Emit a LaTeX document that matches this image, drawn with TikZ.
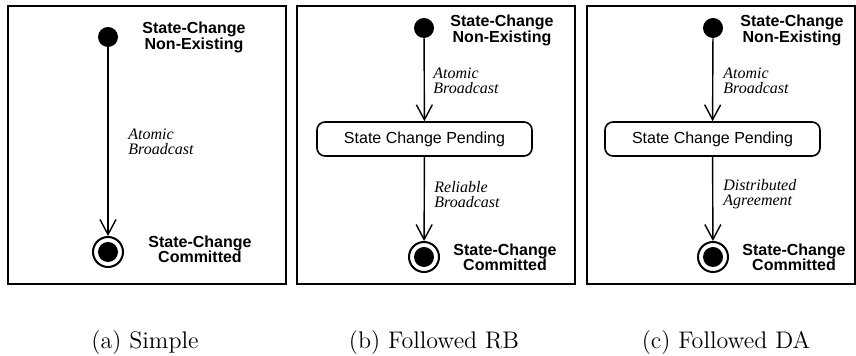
\documentclass[tikz,border=0pt]{standalone}
\usepackage{fontspec}
\usetikzlibrary{arrows.meta}
\newfontfamily\etiq{Liberation Sans}
\newfontfamily\trans{Liberation Serif}

\tikzset{
  inicio/.style={circle, fill=black, inner sep=0pt, minimum size=10pt},
  final/.style={circle, draw, line width=1pt, inner sep=0pt, minimum size=15pt,
    path picture={\fill (path picture bounding box.center) circle (5pt);}},
  estado/.style={draw, line width=0.8pt, rounded corners=4pt, minimum width=107.5pt,
    minimum height=17pt, inner sep=0pt, font=\etiq\fontsize{8}{9.6}\selectfont},
  nombre/.style={align=center, inner sep=0pt, font=\etiq\bfseries\fontsize{8}{7.6}\selectfont},
  trans/.style={align=left, anchor=west, inner sep=0pt, font=\trans\itshape\fontsize{8}{7.6}\selectfont},
  flecha/.style={line width=0.7pt, -{Straight Barb[length=7.5pt, width=8pt, line width=0.7pt]}},
  subtitulo/.style={inner sep=0pt, font=\fontsize{12}{14}\selectfont}
}

\begin{document}
\begin{tikzpicture}[x=0.5pt, y=-0.5pt]
  \useasboundingbox (0,0) rectangle (856,356);

  % Marcos
  \foreach \xa/\xb in {8/286, 297/575, 587/855}
    \draw[line width=0.85pt] (\xa,6) rectangle (\xb,284);

  % (a) Simple
  \node[inicio] (ini-a) at (108,37) {};
  \node[final] (fin-a) at (108,252) {};
  \draw[flecha] (ini-a) -- (fin-a);
  \node[nombre] (ne-a) at (194,37.5) {State-Change\\Non-Existing};
  \node[nombre] (co-a) at (200,249) {State-Change\\Committed};
  \node[trans] (ab-a) at (128,141.5) {Atomic\\Broadcast};

  % (b) Followed RB
  \node[inicio] (ini-b) at (424,28) {};
  \node[estado] (pen-b) at (424.5,139) {State Change Pending};
  \node[final] (fin-b) at (424,257) {};
  \draw[flecha] (ini-b) -- (pen-b);
  \draw[flecha] (pen-b) -- (fin-b);
  \node[nombre] (ne-b) at (502,30.5) {State-Change\\Non-Existing};
  \node[nombre] (co-b) at (505,257.5) {State-Change\\Committed};
  \node[trans] (ab-b) at (433,81) {Atomic\\Broadcast};
  \node[trans] (rb-b) at (434,194.5) {Reliable\\Broadcast};

  % (c) Followed DA
  \node[inicio] (ini-c) at (713,28) {};
  \node[estado] (pen-c) at (712.5,139) {State Change Pending};
  \node[final] (fin-c) at (713,257) {};
  \draw[flecha] (ini-c) -- (pen-c);
  \draw[flecha] (pen-c) -- (fin-c);
  \node[nombre] (ne-c) at (792,30.5) {State-Change\\Non-Existing};
  \node[nombre] (co-c) at (794,257.5) {State-Change\\Committed};
  \node[trans] (ab-c) at (723,81) {Atomic\\Broadcast};
  \node[trans] (da-c) at (723,194.5) {Distributed\\Agreement};

  % Subtitulos
  \node[subtitulo] (sub-a) at (145,343) {(a) Simple};
  \node[subtitulo] (sub-b) at (434,343) {(b) Followed RB};
  \node[subtitulo] (sub-c) at (726,343) {(c) Followed DA};
\end{tikzpicture}
\end{document}
